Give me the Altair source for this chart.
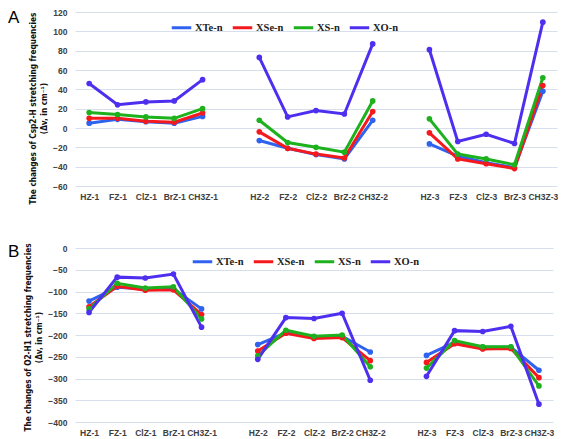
import altair as alt
import pandas as pd

series = ["XTe-n", "XSe-n", "XS-n", "XO-n"]
colors = ["#2F62EE", "#F5191E", "#1DB21D", "#4F2FEF"]

groups = ["1", "2", "3"]
subst = ["HZ", "FZ", "ClZ", "BrZ", "CH3Z"]

# Panel A: changes of Csp2-H stretching frequencies (per group, per substituent)
a_xte = [5, 9, 6.5, 5, 12,   -13, -21, -27.5, -32, 8,   -16.5, -29, -36, -41, 38]
a_xse = [10, 10, 7, 6, 15.5,  -4, -21, -27, -31, 17,    -5, -32, -37, -42, 44]
a_xs  = [16, 14, 11.5, 10, 20, 8, -15, -20, -25, 28,    9.5, -27, -32, -38, 52]
a_xo  = [46, 24, 27, 28, 50,   73, 11.5, 18, 14.5, 87,  81, -14, -6.5, -16, 109.5]

# Panel B: changes of O2-H1 stretching frequencies
b_xte = [-122, -90, -94, -94, -140,   -222, -195, -205, -203, -239,   -247, -217, -228, -228, -281]
b_xse = [-135, -88, -97, -96, -153,   -237, -196, -208, -206, -259,   -263, -220, -232, -231, -298]
b_xs  = [-140, -81, -92, -89, -163,   -248, -189, -203, -200, -273,   -276, -213, -227, -227, -317]
b_xo  = [-148, -67, -69, -60, -182,   -256, -160, -162, -150, -304,   -295, -190, -192, -180, -359]

cats = [f"{s}-{g}" for g in groups for s in subst]
x_domain = cats[0:5] + ["gap1"] + cats[5:10] + ["gap2"] + cats[10:15]
cat_group = [g for g in groups for _ in subst]


def make_df(vals):
    rows = []
    for name, vs in zip(series, vals):
        for c, g, v in zip(cats, cat_group, vs):
            rows.append({"series": name, "cat": c, "group": g, "value": v})
    return pd.DataFrame(rows)


dfA = make_df([a_xte, a_xse, a_xs, a_xo])
dfB = make_df([b_xte, b_xse, b_xs, b_xo])

AX_FONT = "Liberation Sans"
TITLE_FONT = "Liberation Sans Narrow, DejaVu Sans Condensed, sans-serif"


def panel(df, letter, ymin, ymax, ystep, ytitle, legx, legy, w, h, title_shift, letter_y):
    xenc = alt.X(
        "cat:O",
        scale=alt.Scale(domain=x_domain),
        sort=x_domain,
        axis=alt.Axis(
            title=None,
            labelAngle=0,
            labelExpr="indexof(datum.label, 'gap') == 0 ? '' : datum.label",
            ticks=False,
            domain=False,
            grid=False,
            labelFont=AX_FONT,
            labelFontWeight="bold",
            labelFontSize=8.5,
            labelColor="#404040",
            labelPadding=6,
        ),
    )
    yenc = alt.Y(
        "value:Q",
        scale=alt.Scale(domain=[ymin, ymax], nice=False, zero=False),
        axis=alt.Axis(
            values=list(range(ymin, ymax + 1, ystep)),
            title=ytitle,
            titleFont=TITLE_FONT,
            titleFontSize=8.2,
            titleFontWeight="bold",
            titleColor="#111111",
            titleLineHeight=11.5,
            titlePadding=4,
            titleY=h / 2 + title_shift,
            labelFont=AX_FONT,
            labelFontWeight="bold",
            labelFontSize=8.5,
            labelColor="#404040",
            labelPadding=8,
            ticks=False,
            domain=False,
            gridColor="#D8DFEC",
            gridWidth=1,
        ),
    )
    lines = alt.Chart(df).mark_line(
        strokeWidth=3,
        point=alt.OverlayMarkDef(filled=True, size=32),
    ).encode(
        x=xenc,
        y=yenc,
        color=alt.Color(
            "series:N",
            scale=alt.Scale(domain=series, range=colors),
            legend=alt.Legend(
                title=None,
                orient="none",
                legendX=legx,
                legendY=legy,
                direction="horizontal",
                symbolType="stroke",
                symbolStrokeWidth=3,
                symbolSize=380,
                labelFont="Liberation Serif",
                labelFontWeight="bold",
                labelFontSize=10.5,
                labelColor="#222222",
                columnPadding=3,
                labelOffset=2,
            ),
        ),
        detail="group:N",
        order=alt.Order("series_order:Q"),
    ).transform_calculate(
        series_order="indexof(['XTe-n','XSe-n','XS-n','XO-n'], datum.series)"
    )
    lab = alt.Chart(pd.DataFrame({"t": [letter]})).mark_text(
        align="left", baseline="top", fontSize=17, font="Liberation Sans", color="#000000"
    ).encode(text="t:N", x=alt.value(-67), y=alt.value(letter_y))
    return alt.layer(lines, lab).properties(width=w, height=h)


chartA = panel(dfA, "A", -60, 120, 20,
               ["The changes of Csp2-H stretching frequencies", "(Δv, in cm⁻¹)"],
               95, 4, 482, 174, 9, -2)
chartB = panel(dfB, "B", -400, 0, 50,
               ["The changes of O2-H1 stretching frequencies", "(Δv, in cm⁻¹)"],
               116, 2, 478, 174, 2, -4)

chart = alt.vconcat(chartA, chartB, spacing=62, bounds="flush").resolve_scale(
    color="independent"
).configure_view(stroke=None).properties(padding=0)

chart.save("out.html", embed_options={"renderer": "svg", "actions": False})
